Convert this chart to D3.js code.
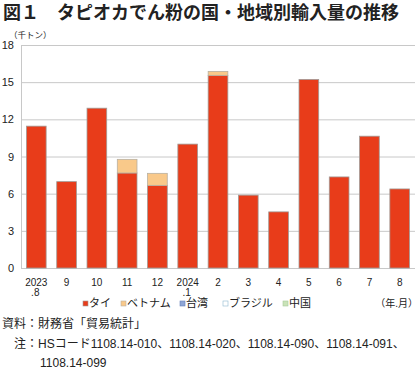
<!DOCTYPE html>
<html>
<head>
<meta charset="utf-8">
<script src="https://cdn.jsdelivr.net/npm/d3@7"></script>
<style>
  body { margin: 0; background: #fff; }
  text { font-family: "Liberation Sans", "Noto Sans CJK JP", sans-serif; fill: #222; }
</style>
</head>
<body>
<div id="content"></div>
<script>
const months = ['2023\n.8', '9', '10', '11', '12', '2024\n.1', '2', '3', '4', '5', '6', '7', '8'];
const thai = [11.45, 6.97, 12.9, 7.67, 6.67, 10.0, 15.55, 5.88, 4.53, 15.22, 7.35, 10.64, 6.38];
const vietnam = [0, 0, 0, 1.1, 0.97, 0, 0.32, 0, 0, 0, 0, 0, 0];
const taiwan = [0, 0, 0, 0, 0, 0, 0, 0, 0, 0, 0, 0, 0];
const brazil = [0, 0, 0, 0, 0, 0, 0, 0, 0, 0, 0, 0, 0];
const china = [0, 0, 0, 0, 0, 0, 0, 0, 0, 0, 0, 0, 0];
const yTicks = [0, 3, 6, 9, 12, 15, 18];

const seriesNames = ['タイ', 'ベトナム', '台湾', 'ブラジル', '中国'];
const seriesValues = [thai, vietnam, taiwan, brazil, china];
const fills = ['#e83c1a', '#f9c98a', '#8fa6d6', '#ffffff', '#c9e3b8'];
const strokes = ['#a09a96', '#b8b0a0', '#6680b8', '#8fb8d0', '#a9c99a'];

const width = 420;
const height = 371;

const svg = d3.select('#content')
    .append('svg')
    .attr('width', width)
    .attr('height', height);

// title
svg.append('text')
    .attr('x', 3)
    .attr('y', 19)
    .attr('font-size', 18)
    .attr('font-weight', 'bold')
    .attr('font-family', '"Noto Sans CJK JP", sans-serif')
    .text('図１　タピオカでん粉の国・地域別輸入量の推移');

const plotL = 21, plotR = 415, plotT = 45, plotB = 268;

const x = d3.scaleBand()
    .domain(months)
    .range([plotL, plotR])
    .paddingInner(0.35)
    .paddingOuter(0.18);

const y = d3.scaleLinear()
    .domain([0, 18])
    .range([plotB, plotT]);

// gridlines
svg.append('g')
    .selectAll('line')
    .data(yTicks)
    .join('line')
    .attr('x1', plotL)
    .attr('x2', plotR)
    .attr('y1', d => y(d) + 0.5)
    .attr('y2', d => y(d) + 0.5)
    .attr('stroke', '#c8c8c8')
    .attr('stroke-width', 1);

svg.append('line')
    .attr('x1', plotL + 0.5)
    .attr('x2', plotL + 0.5)
    .attr('y1', plotT)
    .attr('y2', plotB)
    .attr('stroke', '#c8c8c8');

// y labels
svg.append('g')
    .selectAll('text')
    .data(yTicks)
    .join('text')
    .attr('x', 14)
    .attr('y', d => y(d) + 4)
    .attr('text-anchor', 'end')
    .attr('font-size', 11)
    .text(d => d);

svg.append('text')
    .attr('x', 9)
    .attr('y', 38)
    .attr('font-size', 8.5)
    .attr('font-family', '"Noto Sans CJK JP", sans-serif')
    .text('（千トン）');

// stacked bars
const table = months.map((m, i) => {
    const row = { month: m };
    seriesNames.forEach((s, j) => { row[s] = seriesValues[j][i]; });
    return row;
});
const stacked = d3.stack().keys(seriesNames)(table);

svg.append('g')
    .selectAll('g')
    .data(stacked)
    .join('g')
    .attr('fill', (d, i) => fills[i])
    .attr('stroke', (d, i) => strokes[i])
    .attr('stroke-width', 0.8)
    .selectAll('rect')
    .data(d => d.filter(p => p[1] - p[0] > 0))
    .join('rect')
    .attr('x', d => x(d.data.month))
    .attr('width', x.bandwidth())
    .attr('y', d => y(d[1]))
    .attr('height', d => y(d[0]) - y(d[1]));

// x labels
const xl = svg.append('g')
    .selectAll('text')
    .data(months)
    .join('text')
    .attr('x', d => x(d) + x.bandwidth() / 2)
    .attr('y', 286)
    .attr('text-anchor', 'middle')
    .attr('font-size', 10);
xl.each(function(d) {
    const parts = d.split('\n');
    const t = d3.select(this);
    t.append('tspan').attr('x', t.attr('x')).text(parts[0]);
    if (parts[1]) {
        t.append('tspan').attr('x', +t.attr('x') - 1).attr('dy', 10).text(parts[1]);
    }
});

// legend
const legendX = [83, 121, 180, 223, 283];
const lg = svg.append('g')
    .selectAll('g')
    .data(seriesNames)
    .join('g')
    .attr('transform', (d, i) => `translate(${legendX[i]},307)`);
lg.append('rect')
    .attr('x', 0)
    .attr('y', -6)
    .attr('width', 5)
    .attr('height', 5)
    .attr('fill', (d, i) => fills[i])
    .attr('stroke', (d, i) => strokes[i])
    .attr('stroke-width', 0.6);
lg.append('text')
    .attr('x', 6)
    .attr('y', 0)
    .attr('font-size', 11)
    .attr('font-family', '"Noto Sans CJK JP", sans-serif')
    .text(d => d);

svg.append('text')
    .attr('x', 418)
    .attr('y', 307)
    .attr('text-anchor', 'end')
    .attr('font-size', 10)
    .attr('font-family', '"Noto Sans CJK JP", sans-serif')
    .text('（年.月）');

// notes
const notes = svg.append('g')
    .attr('font-size', 12)
    .attr('font-family', '"Noto Sans CJK JP", sans-serif');
notes.append('text').attr('x', 2).attr('y', 328).text('資料：財務省「貿易統計」');
notes.append('text').attr('x', 14).attr('y', 348).text('注：HSコード1108.14-010、1108.14-020、1108.14-090、1108.14-091、');
notes.append('text').attr('x', 40).attr('y', 367).text('1108.14-099');
</script>
</body>
</html>
